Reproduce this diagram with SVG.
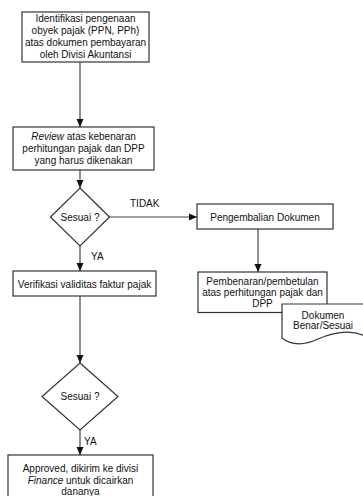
<svg xmlns="http://www.w3.org/2000/svg" width="363" height="496" viewBox="0 0 363 496">
<defs>
<style>
.box{fill:#fff;stroke:#333;stroke-width:1.2}
.t{font-family:"Liberation Sans",Arial,sans-serif;font-size:10px;fill:#111;text-anchor:middle}
.lbl{font-family:"Liberation Sans",Arial,sans-serif;font-size:10px;fill:#111}
.con{fill:none;stroke:#444;stroke-width:1.2}
</style>
<marker id="arr" viewBox="0 0 8 8" refX="8" refY="4" markerWidth="8" markerHeight="8" markerUnits="userSpaceOnUse" orient="auto">
<path d="M0,0.5 L8,4 L0,7.5 Z" fill="#111"/>
</marker>
</defs>
<rect width="363" height="496" fill="#fff"/>
<g id="connectors">
<line class="con" x1="80" y1="62" x2="80" y2="127" marker-end="url(#arr)"/>
<line class="con" x1="80" y1="170" x2="80" y2="188" marker-end="url(#arr)"/>
<line class="con" x1="109.5" y1="217" x2="197" y2="217" marker-end="url(#arr)"/>
<line class="con" x1="80" y1="246" x2="80" y2="271" marker-end="url(#arr)"/>
<line class="con" x1="80" y1="296" x2="80" y2="363" marker-end="url(#arr)"/>
<line class="con" x1="80" y1="430" x2="80" y2="455" marker-end="url(#arr)"/>
<line class="con" x1="258" y1="229" x2="258" y2="272" marker-end="url(#arr)"/>
<text class="lbl" x="130" y="207">TIDAK</text>
<text class="lbl" x="91" y="260">YA</text>
<text class="lbl" x="84" y="445">YA</text>
</g>
<g id="n1">
<rect class="box" x="22" y="12" width="127" height="50"/>
<text class="t" x="85.5" y="22">Identifikasi pengenaan</text>
<text class="t" x="85.5" y="34">obyek pajak (PPN, PPh)</text>
<text class="t" x="85.5" y="46">atas dokumen pembayaran</text>
<text class="t" x="85.5" y="57.5">oleh Divisi Akuntansi</text>
</g>
<g id="n2">
<rect class="box" x="13" y="127" width="141" height="43"/>
<text class="t" x="83.5" y="140"><tspan font-style="italic">Review</tspan> atas kebenaran</text>
<text class="t" x="83.5" y="152">perhitungan pajak dan DPP</text>
<text class="t" x="83.5" y="164">yang harus dikenakan</text>
</g>
<g id="d1">
<polygon class="box" points="80,188 109.5,217 80,246 50.5,217"/>
<text class="t" x="80" y="221">Sesuai ?</text>
</g>
<g id="n3">
<rect class="box" x="13" y="271" width="143" height="25"/>
<text class="t" x="84.5" y="287.5">Verifikasi validitas faktur pajak</text>
</g>
<g id="d2">
<polygon class="box" points="80,363 118,396.5 80,430 42,396.5"/>
<text class="t" x="80" y="400">Sesuai ?</text>
</g>
<g id="n4">
<rect class="box" x="8" y="455" width="145" height="43"/>
<text class="t" x="80.5" y="472">Approved, dikirim ke divisi</text>
<text class="t" x="80.5" y="484"><tspan font-style="italic">Finance</tspan> untuk dicairkan</text>
<text class="t" x="80.5" y="495">dananya</text>
</g>
<g id="n5">
<rect class="box" x="197" y="204" width="136" height="25"/>
<text class="t" x="265" y="220.5">Pengembalian Dokumen</text>
</g>
<g id="n6">
<rect class="box" x="198" y="272" width="129" height="40.5"/>
<text class="t" x="262.5" y="285">Pembenaran/pembetulan</text>
<text class="t" x="262.5" y="296">atas perhitungan pajak dan</text>
<text class="t" x="262.5" y="307">DPP</text>
</g>
<g id="n7">
<path class="box" d="M282,304 H365 V336 C350,329 332,333 318,339 C305,345 292,346 282,338 Z"/>
<text class="t" x="323" y="318.5">Dokumen</text>
<text class="t" x="323" y="329">Benar/Sesuai</text>
</g>
</svg>
